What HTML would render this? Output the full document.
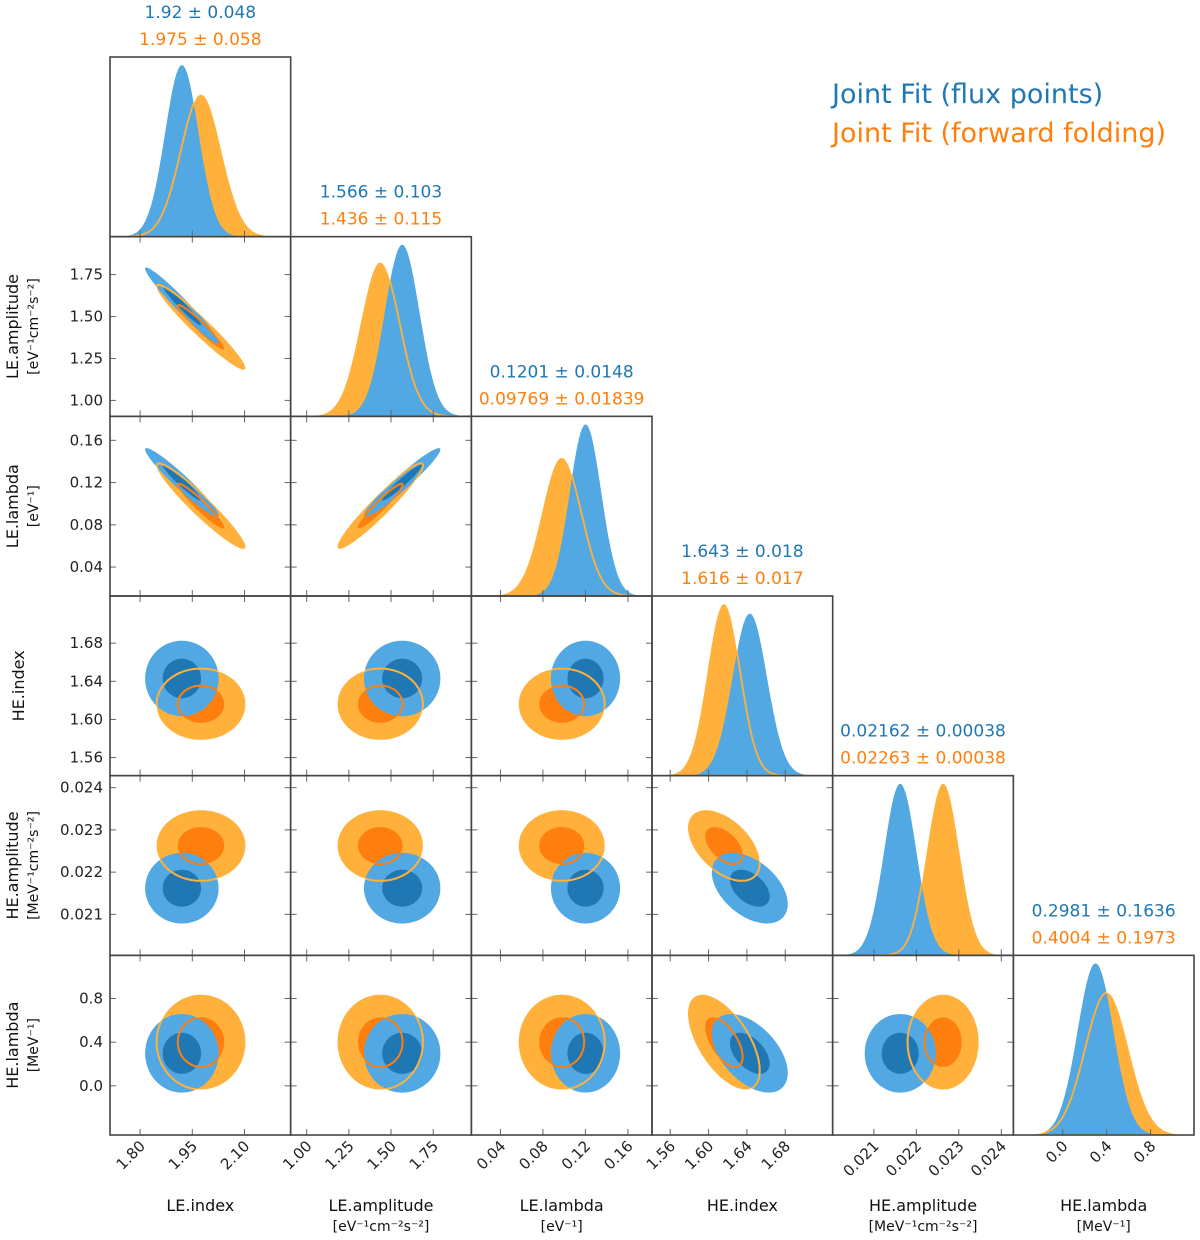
<!DOCTYPE html>
<html><head><meta charset="utf-8">
<style>
html,body{margin:0;padding:0;background:#fff;}
svg{display:block;font-family:"DejaVu Sans","Liberation Sans",sans-serif;}
</style></head>
<body>
<svg id="chart" width="1200" height="1240" viewBox="0 0 1200 1240" xmlns="http://www.w3.org/2000/svg">
<defs id="defs"></defs>
<g id="plots"></g>
<text x="832" y="103" font-size="27" fill="#1f77b4">Joint Fit (flux points)</text>
<text x="832" y="142" font-size="27" fill="#ff7f0e">Joint Fit (forward folding)</text>
</svg>
<script>
const params = ["LE.index","LE.amplitude","LE.lambda","HE.index","HE.amplitude","HE.lambda"];
const units = ["","[eV\u207B\u00B9cm\u207B\u00B2s\u207B\u00B2]","[eV\u207B\u00B9]","","[MeV\u207B\u00B9cm\u207B\u00B2s\u207B\u00B2]","[MeV\u207B\u00B9]"];
const blueMean = [1.92,1.566,0.1201,1.643,0.02162,0.2981];
const blueSigma = [0.048,0.103,0.0148,0.018,0.00038,0.1636];
const orangeMean = [1.975,1.436,0.09769,1.616,0.02263,0.4004];
const orangeSigma = [0.058,0.115,0.01839,0.017,0.00038,0.1973];
const blueTitle = ["1.92 \u00B1 0.048","1.566 \u00B1 0.103","0.1201 \u00B1 0.0148","1.643 \u00B1 0.018","0.02162 \u00B1 0.00038","0.2981 \u00B1 0.1636"];
const orangeTitle = ["1.975 \u00B1 0.058","1.436 \u00B1 0.115","0.09769 \u00B1 0.01839","1.616 \u00B1 0.017","0.02263 \u00B1 0.00038","0.4004 \u00B1 0.1973"];
const blueCorr = [
 [1,-0.97,-0.96,0,0,0],
 [-0.97,1,0.96,0,0,0],
 [-0.96,0.96,1,0,0,0],
 [0,0,0,1,-0.45,-0.5],
 [0,0,0,-0.45,1,0],
 [0,0,0,-0.5,0,1]];
const orangeCorr = [
 [1,-0.96,-0.95,0,0,0],
 [-0.96,1,0.95,0,0,0],
 [-0.95,0.95,1,0,0,0],
 [0,0,0,1,-0.5,-0.6],
 [0,0,0,-0.5,1,0],
 [0,0,0,-0.6,0,1]];
const axisMin = [1.7135,0.905,0.0126,1.541,0.02003,-0.4506];
const axisMax = [2.2327,1.976,0.1827,1.7295,0.024284,1.1954];
const tickVals = [[1.80,1.95,2.10],[1.00,1.25,1.50,1.75],[0.04,0.08,0.12,0.16],[1.56,1.60,1.64,1.68],[0.021,0.022,0.023,0.024],[0.0,0.4,0.8]];
const tickText = [["1.80","1.95","2.10"],["1.00","1.25","1.50","1.75"],["0.04","0.08","0.12","0.16"],["1.56","1.60","1.64","1.68"],["0.021","0.022","0.023","0.024"],["0.0","0.4","0.8"]];
const levels = [2.2,1.15];

const NS="http://www.w3.org/2000/svg";
const L0=110,T0=57,CW=180.67,RH=179.67;
const colL=i=>L0+CW*i, rowT=j=>T0+RH*j;
const X=(i,v)=>colL(i)+(v-axisMin[i])/(axisMax[i]-axisMin[i])*CW;
const Y=(j,v)=>rowT(j)+RH-(v-axisMin[j])/(axisMax[j]-axisMin[j])*RH;
const plots=document.getElementById('plots'), defs=document.getElementById('defs');
function mk(tag,attrs,parent){const e=document.createElementNS(NS,tag);for(const k in attrs)e.setAttribute(k,attrs[k]);(parent||plots).appendChild(e);return e;}
const BL="#52a8e3",BD="#1f77b4",OL="#ffb13b",OD="#ff7f0e";
function ellipse(i,j,m,s,c,r){
  const rho=c[i][j];let d="";
  for(let k=0;k<=120;k++){const t=k/120*2*Math.PI;
    const x=m[i]+s[i]*r*Math.cos(t);
    const y=m[j]+s[j]*r*(rho*Math.cos(t)+Math.sqrt(1-rho*rho)*Math.sin(t));
    d+=(k?"L":"M")+X(i,x).toFixed(1)+","+Y(j,y).toFixed(1);}
  return d+"Z";
}
let cid=0;
for(let j=0;j<6;j++)for(let i=0;i<=j;i++){
  const x0=colL(i),y0=rowT(j);
  const cp=mk('clipPath',{id:'c'+(++cid)},defs);
  mk('rect',{x:x0,y:y0,width:CW,height:RH},cp);
  const g=mk('g',{'clip-path':'url(#c'+cid+')'});
  
  
  if(i===j){
    const hb=1/blueSigma[i],ho=1/orangeSigma[i],hm=Math.max(hb,ho);
    const curve=(m,s,h)=>{let d="M"+x0+","+(y0+RH);
      for(let k=0;k<=200;k++){const v=axisMin[i]+(axisMax[i]-axisMin[i])*k/200;
        const y=h/hm*0.955*Math.exp(-0.5*Math.pow((v-m)/s,2));
        d+="L"+X(i,v).toFixed(1)+","+(y0+RH-y*RH).toFixed(1);}
      return d+"L"+(x0+CW)+","+(y0+RH)+"Z";};
    const od=curve(orangeMean[i],orangeSigma[i],ho), bd=curve(blueMean[i],blueSigma[i],hb);
    const o=mk('path',{d:od,fill:OL},g);
    const b=mk('path',{d:bd,fill:BL},g);
    const cp2=mk('clipPath',{id:'b'+cid},defs);mk('path',{d:bd},cp2);
    const ol=mk('path',{d:od,fill:'none',stroke:OL,'stroke-width':1.8,'clip-path':'url(#b'+cid+')'},g);
    
    const cx=x0+CW/2;
    const t1=mk('text',{x:cx,y:y0-39,'text-anchor':'middle','font-size':17,fill:BD});t1.textContent=blueTitle[i];
    
    const t2=mk('text',{x:cx,y:y0-12,'text-anchor':'middle','font-size':17,fill:OD});t2.textContent=orangeTitle[i];
    
  } else {
    const bo=ellipse(i,j,blueMean,blueSigma,blueCorr,levels[0]);
    const bi=ellipse(i,j,blueMean,blueSigma,blueCorr,levels[1]);
    const oo=ellipse(i,j,orangeMean,orangeSigma,orangeCorr,levels[0]);
    const oi=ellipse(i,j,orangeMean,orangeSigma,orangeCorr,levels[1]);
    let e;
    e=mk('path',{d:oo,fill:OL},g);
    e=mk('path',{d:oi,fill:OD},g);
    e=mk('path',{d:bo,fill:BL},g);
    e=mk('path',{d:bi,fill:BD},g);
    const cp2=mk('clipPath',{id:'b'+cid},defs);mk('path',{d:bo},cp2);
    const lg=mk('g',{'clip-path':'url(#b'+cid+')',fill:'none','stroke-width':2},g);
    e=mk('path',{d:oo,stroke:OL},lg);
    e=mk('path',{d:oi,stroke:OD},lg);
    tickVals[j].forEach(v=>{const y=Y(j,v);
      mk('line',{x1:x0,x2:x0+6,y1:y,y2:y,stroke:'#666','stroke-width':1});
      mk('line',{x1:x0+CW-6,x2:x0+CW,y1:y,y2:y,stroke:'#666','stroke-width':1});});
    tickVals[i].forEach(v=>{const x=X(i,v);
      mk('line',{x1:x,x2:x,y1:y0,y2:y0+6,stroke:'#666','stroke-width':1});});
  }
  tickVals[i].forEach(v=>{const x=X(i,v);
    mk('line',{x1:x,x2:x,y1:y0+RH-6,y2:y0+RH,stroke:'#666','stroke-width':1});});
  const fr=mk('rect',{x:x0,y:y0,width:CW,height:RH,fill:'none',stroke:'#444','stroke-width':1.6});
  
}
for(let j=1;j<6;j++){
  tickVals[j].forEach((v,k)=>{const t=mk('text',{x:103,y:Y(j,v)+5,'text-anchor':'end','font-size':15,fill:'#222'});t.textContent=tickText[j][k];
    });
  const cy=rowT(j)+RH/2;
  const hasU=units[j]!=="";
  const t=mk('text',{transform:`translate(${hasU?18:24},${cy}) rotate(-90)`,'text-anchor':'middle','font-size':16,fill:'#111'});t.textContent=params[j];
  
  if(hasU){const u=mk('text',{transform:`translate(38,${cy}) rotate(-90)`,'text-anchor':'middle','font-size':14,fill:'#111'});u.textContent=units[j];
    }
}
for(let i=0;i<6;i++){
  const yb=rowT(6);
  tickVals[i].forEach((v,k)=>{const x=X(i,v);
    const t=mk('text',{transform:`translate(${x+6},${yb+12}) rotate(-45)`,'text-anchor':'end','font-size':15,fill:'#222'});t.textContent=tickText[i][k];
    });
  const cx=colL(i)+CW/2;
  const t=mk('text',{x:cx,y:1211,'text-anchor':'middle','font-size':16,fill:'#111'});t.textContent=params[i];
  
  if(units[i]){const u=mk('text',{x:cx,y:1231,'text-anchor':'middle','font-size':14,fill:'#111'});u.textContent=units[i];
    }
}
</script>
</body></html>
